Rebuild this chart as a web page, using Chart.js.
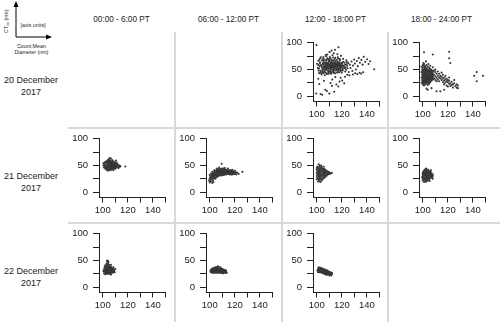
<!DOCTYPE html>
<html>
<head>
<meta charset="utf-8">
<script src="https://cdn.jsdelivr.net/npm/chart.js@4"></script>
<style>
  body { margin: 0; background: #fff; font-family: 'Liberation Sans', Arial, sans-serif; color: #222; }
  #wrap { position: relative; width: 500px; height: 324px; overflow: hidden; }
  .cell { position: absolute; width: 107px; height: 95px; }
  .head { position: absolute; top: 14.5px; width: 107px; text-align: center; font-size: 8.2px; white-space: nowrap; }
  .day { position: absolute; left: 0; width: 62px; text-align: center; font-size: 9px; line-height: 11.5px; }
  .vline { position: absolute; width: 1.5px; background: #d9d9d9; top: 32px; height: 290px; }
  .hline { position: absolute; height: 1.5px; background: #d9d9d9; left: 68px; width: 432px; }
  .key { position: absolute; font-size: 5.3px; white-space: nowrap; }
</style>
</head>
<body>
<div id="wrap"></div>
<script>
// column headers and row labels
const periods = ['00:00 - 6:00 PT', '06:00 - 12:00 PT', '12:00 - 18:00 PT', '18:00 - 24:00 PT'];
const days = ['20 December', '21 December', '22 December'];
const year = '2017';

// axis ticks (count mean diameter vs CTsc)
const xTicks = [100, 110, 120, 130, 140, 150];
const xLabels = [100, 120, 140];
const yTicks = [0, 25, 50, 75, 100];
const yLabels = [0, 50, 100];

// 20 Dec, 12:00 - 18:00
const dec20Afternoon = [
  // core
  [103.4,58.2],[104.1,52.7],[104.8,61.5],[105.2,55.1],[105.6,63.8],[105.9,49.3],[106.3,57.9],[106.7,53.4],
  [107.1,60.6],[107.4,66.2],[107.8,50.8],[108.2,56.3],[108.5,62.1],[108.9,47.5],[109.2,54.9],[109.6,59.7],
  [109.9,64.4],[110.3,51.6],[110.6,57.2],[110.9,61.8],[111.3,55.0],[111.7,68.3],[112.0,52.9],[112.4,58.8],
  [112.7,63.1],[113.1,49.6],[113.5,56.4],[113.8,60.9],[114.2,53.7],[114.6,58.1],[115.0,65.0],[115.3,51.2],
  [115.7,57.6],[116.1,61.3],[116.5,54.5],[116.9,59.2],[117.4,48.9],[117.8,56.7],[118.2,62.6],[118.7,52.4],
  [119.1,58.4],[119.6,55.2],[120.2,60.5],[120.8,50.7],[121.5,57.0],[122.1,62.8],[123.0,54.1],[123.8,59.6],[124.6,52.3],
  [102.6,63.1],[103.1,47.4],[103.7,55.8],[104.4,44.6],[104.9,58.9],[105.4,67.3],[105.8,52.2],[106.1,45.8],
  [106.5,61.9],[106.9,56.0],[107.3,48.7],[107.6,54.1],[108.0,59.5],[108.4,70.8],[108.7,52.0],[109.0,61.6],
  [109.4,44.9],[109.8,56.5],[110.1,67.9],[110.5,54.0],[110.8,48.2],[111.1,59.9],[111.5,63.7],[111.9,50.4],
  [112.2,56.0],[112.6,46.3],[112.9,61.0],[113.3,66.5],[113.6,53.2],[114.0,57.4],[114.4,62.9],[114.8,48.0],
  [115.2,55.6],[115.5,60.3],[115.9,52.1],[116.3,57.1],[116.7,64.6],[117.1,51.5],[117.6,60.2],[118.0,54.8],
  [118.4,58.9],[118.9,46.9],[119.4,61.4],[119.9,53.0],[120.5,57.8],[121.1,64.1],[121.8,53.6],[122.5,59.0],
  [123.4,49.4],[124.2,56.8],[125.1,61.7],
  [104.6,50.0],[105.0,60.1],[106.0,54.6],[106.6,50.2],[107.0,58.0],[107.7,62.8],[108.3,53.7],[108.8,58.3],
  [109.3,51.1],[109.7,65.5],[110.2,58.8],[110.7,45.4],[111.2,52.5],[111.6,57.4],[112.3,60.7],[112.8,54.6],
  [113.2,58.1],[113.9,51.3],[114.3,55.3],[114.9,61.1],[115.4,58.6],[116.0,49.9],[116.6,62.0],[117.3,55.9],
  [117.9,63.5],[118.5,50.3],[119.2,56.1],[120.0,62.4],[120.6,47.8],[121.3,55.4],[122.3,52.1],[124.0,63.8],
  [102.1,68.4],[103.3,72.6],[104.2,66.9],[105.1,70.1],[106.2,68.7],[107.9,67.4],[109.1,69.3],[110.7,71.2],
  [111.9,66.6],[113.1,72.3],[114.1,68.1],[115.8,67.5],[116.8,72.9],[118.3,69.6],
  [102.9,45.2],[103.6,42.5],[104.7,46.8],[105.5,43.1],[106.9,44.2],[107.9,41.6],[109.5,42.0],[110.4,46.6],
  [111.8,44.3],[113.4,46.9],[114.6,42.7],[116.4,47.3],[117.7,44.9],[119.5,48.6],[101.8,52.3],[101.1,58.1],[102.4,61.2],
  // halo and right tail
  [100.2,60.5],[100.8,52.6],[101.3,66.0],[101.9,43.0],[102.3,56.4],[102.8,71.5],[101.5,48.2],[103.9,40.8],
  [105.3,73.2],[106.4,39.2],[107.5,74.6],[108.6,42.3],[110.4,73.0],[111.4,41.7],[112.5,76.4],[113.7,43.5],
  [114.7,71.6],[116.2,44.1],[117.0,70.5],[118.6,67.4],[119.8,43.8],[121.0,69.8],[122.7,46.0],[123.6,67.2],
  [125.5,45.3],[126.4,58.7],[126.9,52.6],[127.7,64.9],[128.3,47.1],[128.9,57.2],[129.8,68.6],[130.4,60.9],
  [131.2,49.8],[131.9,65.7],[132.7,56.1],[133.5,71.2],[134.4,62.4],[135.6,67.8],[136.5,58.9],[137.4,73.5],
  [138.6,64.2],[140.1,69.0],[141.3,60.2],[142.5,65.3],[145.8,50.4],
  [128.8,40.6],[130.6,42.8],[132.3,41.5],[134.1,43.9],[135.4,42.2],[137.0,44.6],[126.0,38.9],
  // low values
  [99.6,5.0],[101.2,32.5],[102.0,22.8],[103.0,4.1],[104.3,2.5],[105.7,28.6],[106.8,12.0],[108.1,9.6],
  [110.0,4.8],[110.9,24.7],[112.1,19.3],[112.4,31.2],[113.9,8.3],[114.8,35.6],[115.6,21.7],[117.2,18.0],
  [118.1,27.4],[119.0,34.5],[120.3,29.1],[121.9,24.0],[122.5,36.3],[124.3,40.0],
  // high values
  [99.8,95.5],[110.2,82.3],[111.8,85.5],[113.6,80.2],[114.5,86.8],[117.3,91.6],[116.4,78.5],[108.3,78.0],
  [119.3,75.4],[107.2,77.1]
];

// 20 Dec, 18:00 - 24:00
const dec20Evening = [
  [99,25],[99,35],[99,45],[99,55],[99.5,30],[99.5,40],[99.5,50],
  [100,22],[100,28],[100,33],[100,38],[100,43],[100,48],[100,53],[100,58],
  [100.5,26],[100.5,36],[100.5,46],[100.5,62],
  [101,20],[101,24],[101,30],[101,34],[101,39],[101,44],[101,49],[101,54],[101,60],
  [101.5,28],[101.5,42],[101.5,52],
  [102,22],[102,26],[102,31],[102,36],[102,40],[102,45],[102,50],[102,56],[102.5,33],[102.5,48],[102.5,65],
  [103,24],[103,29],[103,34],[103,38],[103,43],[103,47],[103,52],[103,58],[103.5,27],[103.5,40],
  [104,21],[104,25],[104,31],[104,36],[104,41],[104,45],[104,50],[104,55],[104.5,33],[104.5,60],
  [105,23],[105,28],[105,34],[105,38],[105,43],[105,48],[105,53],[105.5,30],[105.5,45],
  [106,26],[106,32],[106,36],[106,41],[106,46],[106,51],[106,57],[106.5,39],
  [107,29],[107,34],[107,38],[107,44],[107,49],[107,15],
  [108,31],[108,36],[108,42],[108,47],[108,54],[108,78],[101,82],[104,12],[103,14],
  [99.5,35],[99.5,45],[100,25],[100,30],[100,40],[100,50],[101,27],[101,37],[101,47],[101,57],
  [102,29],[102,34],[102,43],[102,53],[103,26],[103,31],[103,40],[103,50],[104,28],[104,33],[104,39],[104,48],
  [105,25],[105,31],[105,36],[105,41],[105,46],[106,29],[106,34],[106,44],[106,49],[107,32],[107,41],[107,46],
  [108,34],[108,39],[108,45],
  [109,33],[109,40],[109,48],[110,30],[110,37],[110,45],[110,50],[111,34],[111,42],[111,28],[111,9],
  [112,38],[112,31],[112,46],[113,35],[113,28],[113,42],[114,33],[114,38],[114,9],
  [115,30],[115,36],[115,44],[116,26],[116,33],[116,40],[117,29],[117,35],[117,22],[117,12],
  [118,31],[118,25],[118,38],[119,28],[119,20],[119,33],[120,26],[120,30],[120,18],
  [121,23],[121,29],[121,83],[121,71],[121,35],[122,24],[122,62],[122,19],
  [123,27],[123,21],[124,22],[124,16],[125,24],[125,30],[126,19],[127,16],[127,22],
  [128,15],[128,20],[141,38],[143,45],[143,28],[148,38]
];

// 21 Dec, 00:00 - 06:00
const dec21Night = [
  [100.5,50],[101,46],[101,53],[101.5,49],[102,44],[102,51],[102,56],[102.5,47],
  [103,42],[103,49],[103,53],[103,58],[103.5,45],[104,40],[104,47],[104,51],[104,55],[104,60],
  [104.5,43],[105,45],[105,49],[105,53],[105,57],[105,62],[105.5,41],
  [106,44],[106,47],[106,51],[106,55],[106,59],[106.5,63],[107,42],[107,46],[107,50],[107,53],[107,57],[107.5,60],
  [108,44],[108,48],[108,52],[108,55],[108,58],[108.5,41],[109,46],[109,50],[109,54],[109,57],
  [110,44],[110,48],[110,51],[110,55],[110.5,59],[111,46],[111,50],[111,53],
  [112,48],[112,52],[112.5,45],[113,50],[114,49],[118,48],
  [102,47.5],[103,45.5],[103,55.5],[104,44],[104,57.5],[105,47],[105,51],[105,55],[105,59.5],
  [106,42],[106,49],[106,53],[106,57],[107,44],[107,48],[107,51.5],[107,55],[108,46],[108,50],[108,53.5],
  [109,44],[109,48],[109,52],[110,46],[110,53],[111,48],[111,55.5],[112,50],[100.5,54],[101.5,56],
  [113.5,47],[105.5,64]
];

// 21 Dec, 06:00 - 12:00
const dec21Morning = [
  [99.5,22],[100,18],[100,26],[100,32],[100.5,29],[101,20],[101,24],[101,35],[101.5,30],
  [102,17],[102,27],[102,33],[102,38],[102.5,22],[103,25],[103,30],[103,36],[103.5,41],
  [104,28],[104,33],[104,38],[105,31],[105,35],[105,40],[105.5,44],[106,29],[106,34],[106,38],[106,42],
  [107,32],[107,36],[107,40],[107.5,46],[108,34],[108,38],[108,43],[109,31],[109,36],[109,40],[109.5,53],
  [110,34],[110,38],[110,44],[111,32],[111,37],[111,41],[112,35],[112,39],[112,45],
  [113,33],[113,38],[113,42],[114,36],[114,40],[114.5,44],[115,34],[115,38],[116,36],[116,41],
  [117,33],[117,38],[118,36],[118,42],[119,34],[119,39],[120,37],[121,33],[126,38],
  [100,21],[100.5,24],[101,28],[101.5,33],[102,30],[102,24],[102.5,35],[103,19],[103,33],[103.5,27],
  [104,31],[104,36],[104.5,25],[104.5,40],[105,28],[105,33],[105,38],[106,31],[106,36],[106,40],
  [107,30],[107,34],[107,38],[107,43],[108,32],[108,36],[108,40],[109,34],[109,38],[109,43],
  [110,32],[110,36],[110,41],[111,35],[111,39],[111,44],[112,33],[112,37],[112,42],[113,36],[113,40],
  [114,34],[114,38],[115,36],[115,41],[116,33],[116,39],[117,36],[117,41],[118,33],[118,39],
  [119,37],[120,34],[120,40],[121,37],[122,36],[123,34]
];

// 21 Dec, 12:00 - 18:00
const dec21Afternoon = [
  [100,24],[100,30],[100,36],[100,42],[100.5,48],[101,20],[101,27],[101,33],[101,39],[101,45],[101.5,52],
  [102,23],[102,29],[102,35],[102,41],[102,47],[103,19],[103,26],[103,32],[103,38],[103,44],[103.5,50],
  [104,22],[104,29],[104,35],[104,41],[104,46],[105,25],[105,31],[105,37],[105,43],[105.5,48],
  [106,27],[106,33],[106,39],[106,44],[107,29],[107,35],[107,41],[108,31],[108,36],[108,40],
  [109,33],[109,38],[110,34],[110,37],[111,35],[112,36],
  [100.5,27],[100.5,33],[100.5,39],[101.5,24],[101.5,30],[101.5,36],[101.5,42],[102.5,26],[102.5,32],
  [102.5,38],[102.5,44],[102.5,50],[103.5,23],[103.5,29],[103.5,35],[103.5,41],[103.5,47],[104.5,25],
  [104.5,32],[104.5,38],[104.5,44],[105.5,28],[105.5,34],[105.5,40],[106.5,30],[106.5,36],[106.5,42],
  [107.5,32],[107.5,38],[108.5,34],[109.5,36],[110.5,35.5],[102,20.5],[100,45]
];

// 21 Dec, 18:00 - 24:00
const dec21Evening = [
  [99.5,28],[100,22],[100,33],[100.5,38],[101,19],[101,26],[101,30],[101,36],[101.5,42],
  [102,23],[102,28],[102,33],[102,39],[102.5,44],[103,20],[103,25],[103,30],[103,35],[103,40],
  [104,22],[104,27],[104,32],[104,37],[104.5,42],[105,24],[105,29],[105,34],[105,39],
  [106,26],[106,31],[106,36],[106.5,41],[107,28],[107,33],[108,30],[108,25],
  [100,25],[100,30],[100,36],[100.5,27],[101,23],[101,33],[101,40],[101.5,34],[102,20],[102,25],
  [102,31],[102,36],[102,42],[103,22],[103,28],[103,33],[103,38],[103,43],[104,24],[104,29],[104,35],
  [104,40],[105,26],[105,31],[105,37],[106,28],[106,34],[106,38],[107,30],[107,36],[107.5,27],[108,33],[105.5,21]
];

// 22 Dec, 00:00 - 06:00
const dec22Night = [
  [100.5,30],[101,26],[101,34],[101.5,38],[102,24],[102,29],[102,33],[102,41],[102.5,36],
  [103,27],[103,31],[103,35],[103,44],[103.5,48],[104,25],[104,29],[104,33],[104,37],[104,41],[104.5,46],
  [105,27],[105,31],[105,35],[105,39],[106,25],[106,29],[106,33],[106,37],[106.5,42],
  [107,27],[107,31],[107,35],[108,29],[108,33],[108.5,37],[109,31],[110,34],[109.5,28],
  [101,30],[101.5,32],[102,27],[102,31],[102,37],[102.5,39],[103,25],[103,29],[103,33],[103,37],[103,41],
  [104,27],[104,31],[104,35],[104,39],[104,44],[105,25],[105,29],[105,33],[105,37],[105,42],
  [106,27],[106,31],[106,35],[106,39],[107,29],[107,33],[107,37],[108,27],[108,31],[108,35],
  [109,33],[109,29],[106.5,23.5],[103.5,50],[104.5,48.5]
];

// 22 Dec, 06:00 - 12:00
const dec22Morning = [
  [100.5,30],[101,28],[101,33],[102,27],[102,31],[102,35],[103,29],[103,33],[103.5,36],
  [104,27],[104,31],[104,35],[105,29],[105,33],[105.5,37],[106,27],[106,31],[106,35],
  [107,29],[107,33],[107,38],[108,27],[108,31],[108,35],[109,29],[109,33],
  [110,26],[110,30],[110,34],[111,28],[111,31],[112,27],[112,30],[113,29],[113.5,27],
  [101,31],[101.5,29],[102,29],[102,33],[103,27],[103,31],[103,35],[104,29],[104,33],[104.5,37],
  [105,27],[105,31],[105,35],[106,29],[106,33],[106,37],[107,27],[107,31],[107,35],[108,29],[108,33],
  [108.5,37],[109,27],[109,31],[109,35],[110,28],[110,32],[111,26],[111,30],[111,33],[112,29],[112,32],
  [113,27],[113,31],[106.5,39]
];

// 22 Dec, 12:00 - 18:00
const dec22Afternoon = [
  [100.5,31],[101,28],[101,34],[101.5,37],[102,30],[102,33],[102.5,36],[103,28],[103,31],[103,34],
  [104,27],[104,30],[104,33],[104.5,35],[105,26],[105,29],[105,32],[106,25],[106,28],[106,31],[106.5,33],
  [107,24],[107,27],[107,30],[108,23],[108,26],[108,29],[108.5,31],[109,24],[109,27],[109.5,29],
  [110,22],[110,25],[110,28],[111,24],[111,27],[112,25],
  [101,31],[101.5,33],[102,28],[102,35],[102.5,31],[103,29],[103,33],[103,36],[103.5,32],[104,28],
  [104,32],[104,35],[105,27],[105,30],[105,34],[106,26],[106,30],[106,33],[107,25],[107,28],[107,32],
  [108,24],[108,28],[108,31],[109,26],[109,29],[110,24],[110,27],[111,25],[111,28],[112,24],[112,27],[111.5,22]
];

const panels = [
  { row: 0, col: 2, points: dec20Afternoon },
  { row: 0, col: 3, points: dec20Evening },
  { row: 1, col: 0, points: dec21Night },
  { row: 1, col: 1, points: dec21Morning },
  { row: 1, col: 2, points: dec21Afternoon },
  { row: 1, col: 3, points: dec21Evening },
  { row: 2, col: 0, points: dec22Night },
  { row: 2, col: 1, points: dec22Morning },
  { row: 2, col: 2, points: dec22Afternoon }
];

const colLeft = [68, 175, 282, 388];
const rowTop = [32, 128, 223];
const wrap = document.getElementById('wrap');

function addDiv(cls, css, html) {
  const d = document.createElement('div');
  d.className = cls;
  Object.assign(d.style, css);
  if (html !== undefined) d.innerHTML = html;
  wrap.appendChild(d);
  return d;
}

// table lines
[175, 282, 388].forEach(x => addDiv('vline', { left: (x - 0.75) + 'px' }));
[128, 223].forEach(y => addDiv('hline', { top: (y - 0.75) + 'px' }));

periods.forEach((p, i) => addDiv('head', { left: colLeft[i] + 'px' }, p));
days.forEach((d, i) => addDiv('day', { top: (rowTop[i] + 43) + 'px' }, d + '<br>' + year));

// axis key in the corner
wrap.insertAdjacentHTML('beforeend',
  '<svg style="position:absolute;left:0;top:0" width="60" height="42">' +
  '<line x1="16" y1="37" x2="16" y2="6" stroke="#000" stroke-width="1"/>' +
  '<polygon points="16,1 13.5,7 18.5,7" fill="#000"/>' +
  '<line x1="16" y1="37" x2="47" y2="37" stroke="#000" stroke-width="1"/>' +
  '<polygon points="52,37 46,34.5 46,39.5" fill="#000"/>' +
  '</svg>');
addDiv('key', { left: '20.5px', top: '22px' }, '[axis units]');
addDiv('key', { left: '14.5px', top: '42.5px', textAlign: 'center', lineHeight: '6.5px' }, 'Count Mean<br>Diameter (nm)');
addDiv('key', { left: '2.5px', top: '33px', lineHeight: '7px', transformOrigin: '0 0', transform: 'rotate(-90deg)' },
  'CT<sub style="font-size:4px;vertical-align:-1px">sc</sub> (nm)');

const tickFont = { family: "'Liberation Sans', Arial, sans-serif", size: 9.5 };

function renderPanel(panel) {
  const box = document.createElement('div');
  box.className = 'cell';
  box.style.left = colLeft[panel.col] + 'px';
  box.style.top = rowTop[panel.row] + 'px';
  const canvas = document.createElement('canvas');
  canvas.width = 107;
  canvas.height = 95;
  box.appendChild(canvas);
  wrap.appendChild(box);

  new Chart(canvas, {
    type: 'scatter',
    data: {
      datasets: [{
        data: panel.points.map(p => ({ x: p[0], y: p[1] })),
        backgroundColor: '#363636',
        borderWidth: 0,
        pointRadius: 1.05,
        clip: false
      }]
    },
    options: {
      responsive: false,
      animation: false,
      events: [],
      layout: { padding: { top: 7.5, right: 9.5, left: 0, bottom: 0 } },
      plugins: { legend: { display: false }, tooltip: { enabled: false } },
      scales: {
        x: {
          type: 'linear',
          min: 97,
          max: 150,
          afterBuildTicks: s => { s.ticks = xTicks.map(v => ({ value: v })); },
          afterFit: s => { s.height = 25.5; },
          ticks: {
            callback: v => xLabels.includes(v) ? String(v) : '',
            color: '#222',
            font: tickFont,
            padding: 2,
            maxRotation: 0,
            autoSkip: false
          },
          grid: { drawOnChartArea: false, color: '#222', tickLength: 5 },
          border: { color: '#222', width: 1 }
        },
        y: {
          type: 'linear',
          min: -10,
          max: 100,
          afterBuildTicks: s => { s.ticks = yTicks.map(v => ({ value: v })); },
          afterFit: s => { s.width = 31; },
          ticks: {
            callback: v => yLabels.includes(v) ? String(v) : '',
            color: '#222',
            font: tickFont,
            padding: 5,
            autoSkip: false
          },
          grid: { drawOnChartArea: false, color: '#222', tickLength: 6 },
          border: { color: '#222', width: 1 }
        }
      }
    }
  });
}

panels.forEach(renderPanel);
</script>
</body>
</html>
